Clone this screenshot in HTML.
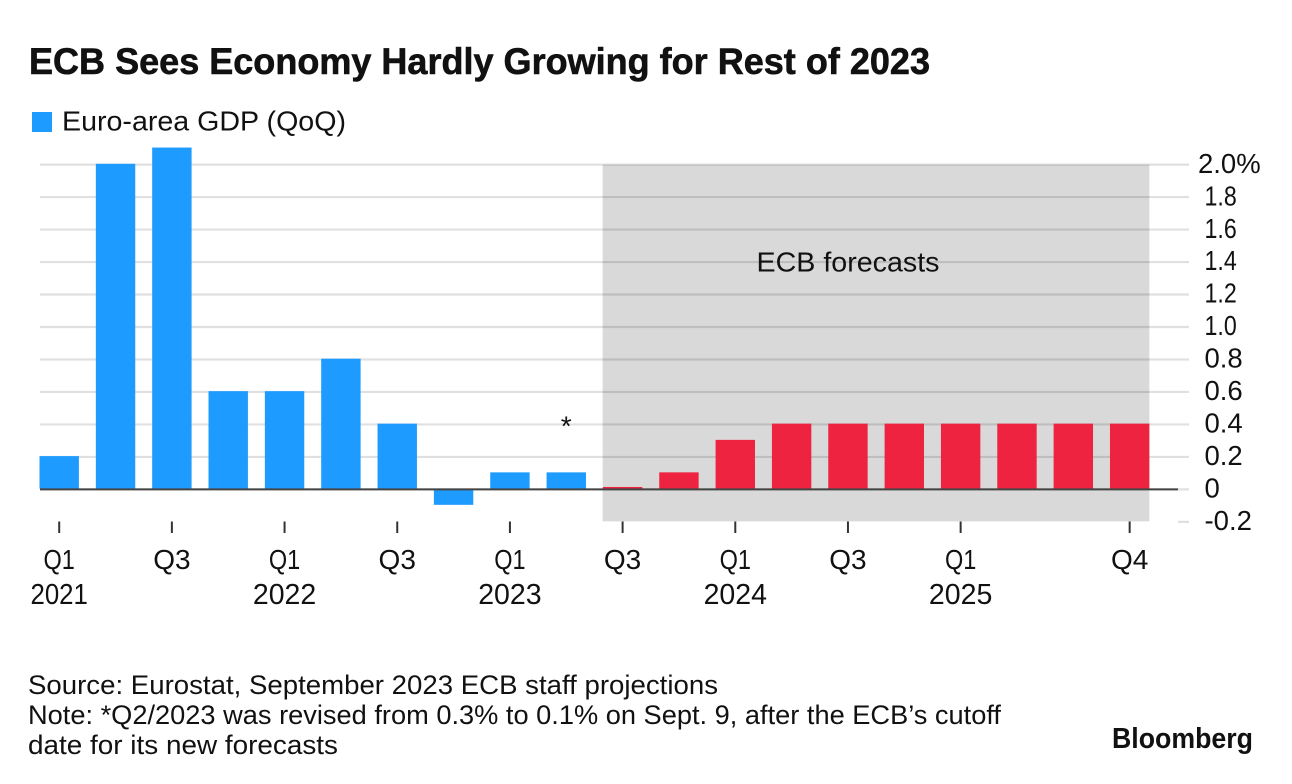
<!DOCTYPE html>
<html lang="en">
<head>
<meta charset="utf-8">
<title>ECB Sees Economy Hardly Growing for Rest of 2023</title>
<style>
html,body{margin:0;padding:0;background:#fff;}
svg{display:block;}
text{font-family:"Liberation Sans",Arial,sans-serif;fill:#111;}
</style>
</head>
<body>
<svg id="chart" xmlns="http://www.w3.org/2000/svg" width="1292" height="784" viewBox="0 0 1292 784">
  <rect x="0" y="0" width="1292" height="784" fill="#ffffff"/>
  <text x="29" y="74" font-size="37" font-weight="700" stroke="#111" stroke-width="0.6" textLength="901" lengthAdjust="spacingAndGlyphs">ECB Sees Economy Hardly Growing for Rest of 2023</text>
  <rect x="32" y="112" width="20" height="20" fill="#1e9bff"/>
  <text x="62" y="130.5" font-size="27.5" textLength="284" lengthAdjust="spacingAndGlyphs">Euro-area GDP (QoQ)</text>
  <g id="grid"></g>
  <g id="band"></g>
  <g id="bars"></g>
  <g id="zero"></g>
  <g id="yaxis"></g>
  <g id="xaxis"></g>
  <text x="848" y="271.5" font-size="27.5" text-anchor="middle" textLength="183" lengthAdjust="spacingAndGlyphs">ECB forecasts</text>
  <text id="asterisk" font-size="28" text-anchor="middle">*</text>
  <text x="28" y="694" font-size="26.5" textLength="690" lengthAdjust="spacingAndGlyphs">Source: Eurostat, September 2023 ECB staff projections</text>
  <text x="28" y="724" font-size="26.5" textLength="973" lengthAdjust="spacingAndGlyphs">Note: *Q2/2023 was revised from 0.3% to 0.1% on Sept. 9, after the ECB’s cutoff</text>
  <text x="28" y="754" font-size="26.5" textLength="310" lengthAdjust="spacingAndGlyphs">date for its new forecasts</text>
  <text x="1112" y="748" font-size="29" font-weight="700" textLength="141" lengthAdjust="spacingAndGlyphs">Bloomberg</text>
</svg>
<script>
const quarters = ["Q1 2021","Q2 2021","Q3 2021","Q4 2021","Q1 2022","Q2 2022","Q3 2022","Q4 2022","Q1 2023","Q2 2023","Q3 2023","Q4 2023","Q1 2024","Q2 2024","Q3 2024","Q4 2024","Q1 2025","Q2 2025","Q3 2025","Q4 2025"];
const gdpValues = [0.2,2.0,2.1,0.6,0.6,0.8,0.4,-0.1,0.1,0.1,0.01,0.1,0.3,0.4,0.4,0.4,0.4,0.4,0.4,0.4];
const firstForecastQuarter = "Q3 2023";
const revisedQuarter = "Q2 2023";
const yTickValues = [2.0,1.8,1.6,1.4,1.2,1.0,0.8,0.6,0.4,0.2,0,-0.2];
const yTickLabels = ["2.0%","1.8","1.6","1.4","1.2","1.0","0.8","0.6","0.4","0.2","0","-0.2"];
const xTickQuarters = ["Q1 2021","Q3 2021","Q1 2022","Q3 2022","Q1 2023","Q3 2023","Q1 2024","Q3 2024","Q1 2025","Q4 2025"];
const xTickLabels = ["Q1","Q3","Q1","Q3","Q1","Q3","Q1","Q3","Q1","Q4"];
const xYearLabels = ["2021","","2022","","2023","","2024","","2025",""];

const NS = "http://www.w3.org/2000/svg";
const BLUE = "#1e9bff", RED = "#ee2340";
const yScale = v => 489.4 - v * 162.4;
const barScale = v => 488.6 - v * 162.4;
const xScale = q => 59.2 + quarters.indexOf(q) * 56.34;
const BAR_W = 39.4;

function make(tag, attrs, parent) {
  const el = document.createElementNS(NS, tag);
  for (const k in attrs) el.setAttribute(k, attrs[k]);
  parent.appendChild(el);
  return el;
}

/* The reference typeface has a much narrower "1" than Liberation Sans. */
function fitOnes(el) {
  const ones = (el.textContent.match(/1/g) || []).length;
  if (ones) {
    el.setAttribute("textLength", el.getComputedTextLength() - 6 * ones);
    el.setAttribute("lengthAdjust", "spacingAndGlyphs");
  }
}

const gridG = document.getElementById("grid");
const bandG = document.getElementById("band");
const barsG = document.getElementById("bars");
const zeroG = document.getElementById("zero");
const yG = document.getElementById("yaxis");
const xG = document.getElementById("xaxis");

yTickValues.forEach((v, i) => {
  const y = yScale(v);
  const line = make("line", {x1: v < 0 ? 1178 : 40, x2: 1189, y1: y, y2: y, stroke: "#e0e0e0", "stroke-width": 2.2}, gridG);
  
  
  const lab = make("text", {x: v === 2 ? 1198 : 1204.5, y: y + 8.2, "font-size": 27.5}, yG);
  
  
  lab.textContent = yTickLabels[i];
  fitOnes(lab);
});

const forecastIdx = quarters.indexOf(firstForecastQuarter);
const bandLeft = xScale(firstForecastQuarter) - 56.34 / 2 + 8.2;
const bandRight = xScale(quarters[quarters.length - 1]) + BAR_W / 2;
const bandRect = make("rect", {x: bandLeft, y: yScale(2.0), width: bandRight - bandLeft, height: yScale(-0.2) - yScale(2.0) - 0.5, fill: "#000", "fill-opacity": 0.15}, bandG);



quarters.forEach((q, i) => {
  const v = gdpValues[i];
  const y0 = barScale(0), y1 = barScale(v);
  const r = make("rect", {x: xScale(q) - BAR_W / 2, y: Math.min(y0, y1), width: BAR_W, height: Math.abs(y1 - y0), fill: i >= forecastIdx ? RED : BLUE}, barsG);
  
  
});

const zl = make("line", {x1: 40, x2: 1178, y1: yScale(0), y2: yScale(0), stroke: "#444", "stroke-width": 2}, zeroG);



xTickQuarters.forEach((q, i) => {
  const x = xScale(q);
  const t = make("line", {x1: x, x2: x, y1: 521.5, y2: 533, stroke: "#333", "stroke-width": 2}, xG);
  
  
  const lab = make("text", {x: x, y: 569, "font-size": 28, "text-anchor": "middle"}, xG);
  
  
  lab.textContent = xTickLabels[i];
  fitOnes(lab);
  if (xYearLabels[i]) {
    const yr = make("text", {x: x, y: 604, "font-size": 28.5, "text-anchor": "middle"}, xG);
    
    
    yr.textContent = xYearLabels[i];
    fitOnes(yr);
  }
});

const star = document.getElementById("asterisk");
star.setAttribute("x", xScale(revisedQuarter));
star.setAttribute("y", 435.5);
</script>
</body>
</html>
